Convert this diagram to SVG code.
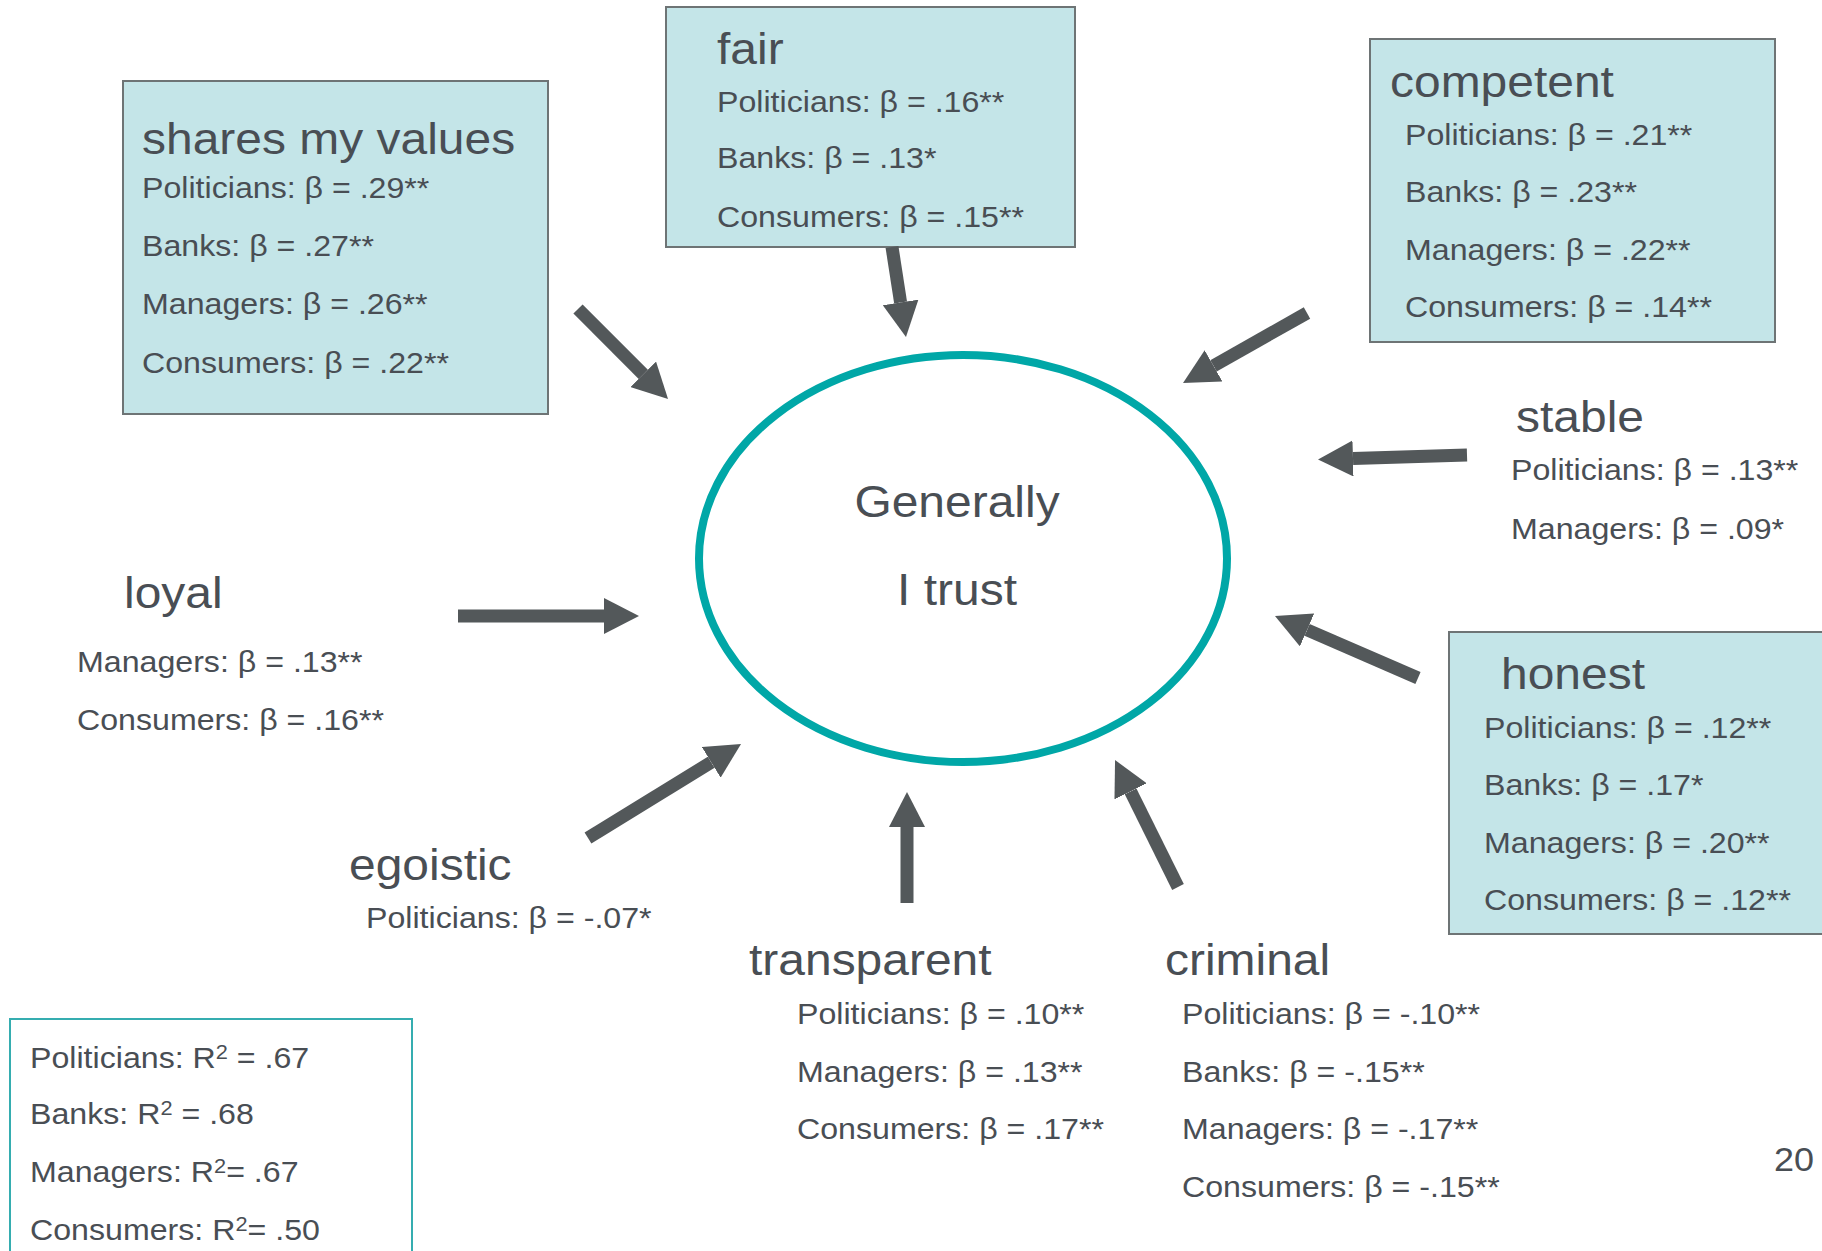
<svg xmlns="http://www.w3.org/2000/svg" width="1822" height="1251" viewBox="0 0 1822 1251">
  <style>
    .t { font-family: "Liberation Sans", Arial, sans-serif; fill: #494e54; }
    .h { font-size: 44px; }
    .b { font-size: 29.5px; }
    .sup { font-size: 20px; }
    .box { fill: #c4e5e8; stroke: #6e7475; stroke-width: 2; }
    .arrow { stroke: #53585a; stroke-width: 13; fill: none; marker-end: url(#head); }
  </style>
  <defs>
    <marker id="head" markerUnits="userSpaceOnUse" viewBox="0 -18 35 36" refX="0" refY="0" markerWidth="35" markerHeight="36" orient="auto">
      <path d="M0,-18 L35,0 L0,18 Z" fill="#53585a"/>
    </marker>
  </defs>

  <rect x="0" y="0" width="1822" height="1251" fill="#ffffff"/>

  <!-- outcome -->
  <g id="node-trust">
    <ellipse cx="963" cy="558.5" rx="264" ry="203.5" fill="#ffffff" stroke="#00a7a7" stroke-width="8"/>
    <g class="t h" transform="translate(957 0) scale(1.09 1)" text-anchor="middle">
      <text x="0" y="517">Generally</text>
      <text x="0" y="605">I trust</text>
    </g>
  </g>

  <!-- predictors -->
  <g id="node-shares">
    <rect class="box" x="123" y="81" width="425" height="333"/>
    <g class="t" transform="translate(142 0) scale(1.09 1)">
      <text class="h" x="0" y="154">shares my values</text>
      <text class="b" x="0" y="198">Politicians: β = .29**</text>
      <text class="b" x="0" y="256">Banks: β = .27**</text>
      <text class="b" x="0" y="314">Managers: β = .26**</text>
      <text class="b" x="0" y="373">Consumers: β = .22**</text>
    </g>
  </g>

  <g id="node-fair">
    <rect class="box" x="666" y="7" width="409" height="240"/>
    <g class="t" transform="translate(717 0) scale(1.09 1)">
      <text class="h" x="0" y="64">fair</text>
      <text class="b" x="0" y="112">Politicians: β = .16**</text>
      <text class="b" x="0" y="168">Banks: β = .13*</text>
      <text class="b" x="0" y="227">Consumers: β = .15**</text>
    </g>
  </g>

  <g id="node-competent">
    <rect class="box" x="1370" y="39" width="405" height="303"/>
    <g class="t" transform="translate(1390 0) scale(1.09 1)">
      <text class="h" x="0" y="97">competent</text>
    </g>
    <g class="t" transform="translate(1405 0) scale(1.09 1)">
      <text class="b" x="0" y="145">Politicians: β = .21**</text>
      <text class="b" x="0" y="202">Banks: β = .23**</text>
      <text class="b" x="0" y="260">Managers: β = .22**</text>
      <text class="b" x="0" y="317">Consumers: β = .14**</text>
    </g>
  </g>

  <g id="node-stable">
    <g class="t" transform="translate(1516 0) scale(1.09 1)">
      <text class="h" x="0" y="432">stable</text>
    </g>
    <g class="t" transform="translate(1511 0) scale(1.09 1)">
      <text class="b" x="0" y="480">Politicians: β = .13**</text>
      <text class="b" x="0" y="539">Managers: β = .09*</text>
    </g>
  </g>

  <g id="node-honest">
    <rect class="box" x="1449" y="632" width="400" height="302"/>
    <g class="t" transform="translate(1501 0) scale(1.09 1)">
      <text class="h" x="0" y="689">honest</text>
    </g>
    <g class="t" transform="translate(1484 0) scale(1.09 1)">
      <text class="b" x="0" y="738">Politicians: β = .12**</text>
      <text class="b" x="0" y="795">Banks: β = .17*</text>
      <text class="b" x="0" y="853">Managers: β = .20**</text>
      <text class="b" x="0" y="910">Consumers: β = .12**</text>
    </g>
  </g>

  <g id="node-loyal">
    <g class="t" transform="translate(124 0) scale(1.09 1)">
      <text class="h" x="0" y="608">loyal</text>
    </g>
    <g class="t" transform="translate(77 0) scale(1.09 1)">
      <text class="b" x="0" y="672">Managers: β = .13**</text>
      <text class="b" x="0" y="730">Consumers: β = .16**</text>
    </g>
  </g>

  <g id="node-egoistic">
    <g class="t" transform="translate(349 0) scale(1.09 1)">
      <text class="h" x="0" y="880">egoistic</text>
    </g>
    <g class="t" transform="translate(366 0) scale(1.09 1)">
      <text class="b" x="0" y="928">Politicians: β = -.07*</text>
    </g>
  </g>

  <g id="node-transparent">
    <g class="t" transform="translate(749 0) scale(1.09 1)">
      <text class="h" x="0" y="975">transparent</text>
    </g>
    <g class="t" transform="translate(797 0) scale(1.09 1)">
      <text class="b" x="0" y="1024">Politicians: β = .10**</text>
      <text class="b" x="0" y="1082">Managers: β = .13**</text>
      <text class="b" x="0" y="1139">Consumers: β = .17**</text>
    </g>
  </g>

  <g id="node-criminal">
    <g class="t" transform="translate(1165 0) scale(1.09 1)">
      <text class="h" x="0" y="975">criminal</text>
    </g>
    <g class="t" transform="translate(1182 0) scale(1.09 1)">
      <text class="b" x="0" y="1024">Politicians: β = -.10**</text>
      <text class="b" x="0" y="1082">Banks: β = -.15**</text>
      <text class="b" x="0" y="1139">Managers: β = -.17**</text>
      <text class="b" x="0" y="1197">Consumers: β = -.15**</text>
    </g>
  </g>

  <!-- explained variance -->
  <g id="node-r2">
    <rect x="10" y="1019" width="402" height="260" fill="none" stroke="#35adb0" stroke-width="2"/>
    <g class="t b" transform="translate(30 0) scale(1.09 1)">
      <text x="0" y="1068">Politicians: R<tspan class="sup" dy="-9">2</tspan><tspan dy="9"> = .67</tspan></text>
      <text x="0" y="1124">Banks: R<tspan class="sup" dy="-9">2</tspan><tspan dy="9"> = .68</tspan></text>
      <text x="0" y="1182">Managers: R<tspan class="sup" dy="-9">2</tspan><tspan dy="9">= .67</tspan></text>
      <text x="0" y="1240">Consumers: R<tspan class="sup" dy="-9">2</tspan><tspan dy="9">= .50</tspan></text>
    </g>
  </g>

  <g id="page-number" class="t" transform="translate(1774 0) scale(1.09 1)">
    <text x="0" y="1171" style="font-size:33px">20</text>
  </g>

  <!-- connectors -->
  <g id="connectors">
    <path class="arrow" d="M578,309 L643.3,374.3"/>
    <path class="arrow" d="M892,247 L900.6,302.4"/>
    <path class="arrow" d="M1307,313 L1213.5,365.8"/>
    <path class="arrow" d="M1467,455 L1353,458.4"/>
    <path class="arrow" d="M1418,678 L1307.1,629.9"/>
    <path class="arrow" d="M1178,887 L1130.6,791.4"/>
    <path class="arrow" d="M907,903 L907,827"/>
    <path class="arrow" d="M588,838 L711.2,762.3"/>
    <path class="arrow" d="M458,616 L604,616"/>
  </g>
</svg>
